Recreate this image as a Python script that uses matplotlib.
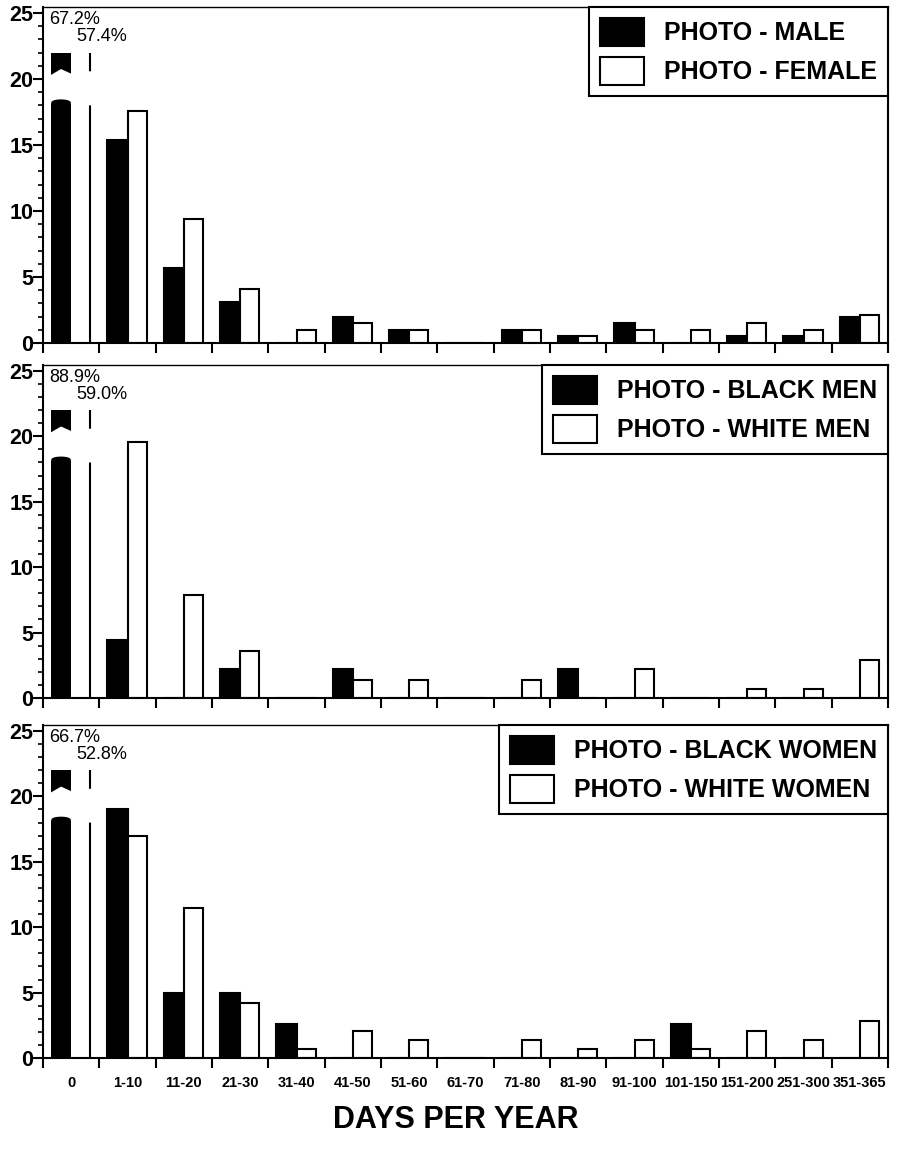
#!/usr/bin/env python3

import numpy as np
import matplotlib
matplotlib.use("Agg")
import matplotlib.pyplot as plt
from matplotlib.patches import Patch, Polygon
from matplotlib.ticker import MultipleLocator, FixedLocator

##############################################################################
# DATA
##############################################################################

categories = ["0", "1-10", "11-20", "21-30", "31-40", "41-50", "51-60",
              "61-70", "71-80", "81-90", "91-100", "101-150", "151-200",
              "251-300", "351-365"]

# percent of respondents per category (first value is the broken "0" bar)
male = [67.2, 15.4, 5.7, 3.1, 0.0, 2.0, 1.0, 0.0, 1.0, 0.5, 1.5, 0.0, 0.5, 0.5, 2.0]
female = [57.4, 17.6, 9.4, 4.1, 1.0, 1.5, 1.0, 0.0, 1.0, 0.5, 1.0, 1.0, 1.5, 1.0, 2.1]

black_men = [88.9, 4.4, 0.0, 2.2, 0.0, 2.2, 0.0, 0.0, 0.0, 2.2, 0.0, 0.0, 0.0, 0.0, 0.0]
white_men = [59.0, 19.6, 7.9, 3.6, 0.0, 1.4, 1.4, 0.0, 1.4, 0.0, 2.2, 0.0, 0.7, 0.7, 2.9]

black_women = [66.7, 19.0, 5.0, 5.0, 2.6, 0.0, 0.0, 0.0, 0.0, 0.0, 0.0, 2.6, 0.0, 0.0, 0.0]
white_women = [52.8, 17.0, 11.5, 4.2, 0.7, 2.1, 1.4, 0.0, 1.4, 0.7, 1.4, 0.7, 2.1, 1.4, 2.8]

panels = [
    (male, female, "PHOTO - MALE", "PHOTO - FEMALE"),
    (black_men, white_men, "PHOTO - BLACK MEN", "PHOTO - WHITE MEN"),
    (black_women, white_women, "PHOTO - BLACK WOMEN", "PHOTO - WHITE WOMEN"),
]

##############################################################################
# STYLE
##############################################################################

plt.rcParams["font.family"] = ["Liberation Sans", "DejaVu Sans"]

YMAX = 25.45      # top of each panel
CAP = 22.0        # drawn height of the broken "0" bars
GAP_LO, GAP_HI = 18.0, 20.3
W_BLACK, W_WHITE = 0.36, 0.34
LW = 1.5


def draw_break(ax, x):
    """White band that cuts the category-0 bars: domed lower piece, notched upper piece."""
    t = np.linspace(-1, 1, 41)
    xb = x - W_BLACK / 2 + t * W_BLACK / 2
    lower = GAP_LO + 0.45 * np.sqrt(1 - t ** 2) ** 0.5
    upper = GAP_HI + 0.45 * (1 - np.abs(t)) + 0.1 * (t > 0) * t
    xr = x + W_WHITE + 0.03
    xl = x - W_BLACK - 0.02
    xs = np.concatenate([[xl], xb, [xr, xr], xb[::-1], [xl]])
    ys = np.concatenate([[GAP_LO], lower, [GAP_LO, GAP_HI + 0.3], upper[::-1], [GAP_HI]])
    ax.add_patch(Polygon(np.column_stack([xs, ys]), closed=True,
                         facecolor="white", edgecolor="none", zorder=3))


def draw_panel(ax, left_vals, right_vals, left_lab, right_lab, show_xlabels):
    x = np.arange(len(categories))
    lh = [min(v, CAP) for v in left_vals]
    rh = [min(v, CAP) for v in right_vals]

    ax.bar(x[1:] - W_BLACK / 2, lh[1:], width=W_BLACK, color="black",
           edgecolor="black", linewidth=LW, zorder=2)
    ax.bar(x[1:] + W_WHITE / 2, rh[1:], width=W_WHITE, color="white",
           edgecolor="black", linewidth=LW, zorder=2)

    # broken "0" category
    ax.bar(x[0] - W_BLACK / 2, lh[0], width=W_BLACK, color="black",
           edgecolor="none", zorder=2)
    ax.bar(x[0] + W_WHITE / 2, rh[0], width=W_WHITE, color="white",
           edgecolor="none", zorder=2)
    ax.vlines(x[0] + W_WHITE, 0, rh[0], color="black", linewidth=LW, zorder=2)
    draw_break(ax, x[0])
    ax.text(x[0] - 0.39, 24.5, f"{left_vals[0]:.1f}%", fontsize=13,
            va="center", ha="left", zorder=5)
    ax.text(x[0] + 0.09, 23.2, f"{right_vals[0]:.1f}%", fontsize=13,
            va="center", ha="left", zorder=5)

    ax.set_xlim(-0.5, len(categories) - 0.5)
    ax.set_ylim(0, YMAX)

    # x: boundary ticks, labels centred in each category
    ax.xaxis.set_major_locator(FixedLocator(np.arange(len(categories) + 1) - 0.5))
    ax.xaxis.set_minor_locator(FixedLocator(x))
    ax.tick_params(axis="x", which="major", direction="out", length=7,
                   width=LW, labelbottom=False)
    if show_xlabels:
        ax.set_xticks(x, categories, minor=True)
        ax.tick_params(axis="x", which="minor", length=0, pad=13,
                       labelsize=10.5)
        for lbl in ax.get_xticklabels(minor=True):
            lbl.set_fontweight("bold")
    else:
        ax.tick_params(axis="x", which="minor", length=0, labelbottom=False)

    # y: bold numbers, minor ticks every unit
    ax.yaxis.set_major_locator(MultipleLocator(5))
    ax.yaxis.set_minor_locator(MultipleLocator(1))
    ax.tick_params(axis="y", which="major", direction="out", length=7,
                   width=LW, pad=0, labelsize=15.5)
    ax.tick_params(axis="y", which="minor", direction="out", length=3.5,
                   width=1.2)
    for lbl in ax.get_yticklabels():
        lbl.set_fontweight("bold")

    for name, sp in ax.spines.items():
        sp.set_linewidth(1.0 if name == "top" else LW)
        sp.set_zorder(4)

    handles = [Patch(facecolor="black", edgecolor="black", linewidth=LW),
               Patch(facecolor="white", edgecolor="black", linewidth=LW)]
    leg = ax.legend(handles, [left_lab, right_lab], loc="upper right",
                    borderaxespad=0, fancybox=False, framealpha=1,
                    edgecolor="black", handlelength=1.76, handleheight=1.32,
                    handletextpad=0.78, labelspacing=0.45, borderpad=0.45,
                    prop={"size": 18, "weight": "bold"})
    leg.get_frame().set_linewidth(LW)
    leg.set_zorder(6)


##############################################################################
# MAIN
##############################################################################
def main():
    fig = plt.figure(figsize=(9.11, 11.65), dpi=100)
    rects = [
        [0.0472, 0.7056, 0.9276, 0.2884],
        [0.0472, 0.4009, 0.9276, 0.2858],
        [0.0472, 0.0918, 0.9276, 0.2858],
    ]
    for i, (lv, rv, ll, rl) in enumerate(panels):
        ax = fig.add_axes(rects[i])
        draw_panel(ax, lv, rv, ll, rl, show_xlabels=(i == len(panels) - 1))

    fig.text(0.5, 0.039, "DAYS PER YEAR", ha="center", va="center",
             fontsize=22, fontweight="bold")

    fig.savefig("out.png", dpi=100)


if __name__ == "__main__":
    main()
